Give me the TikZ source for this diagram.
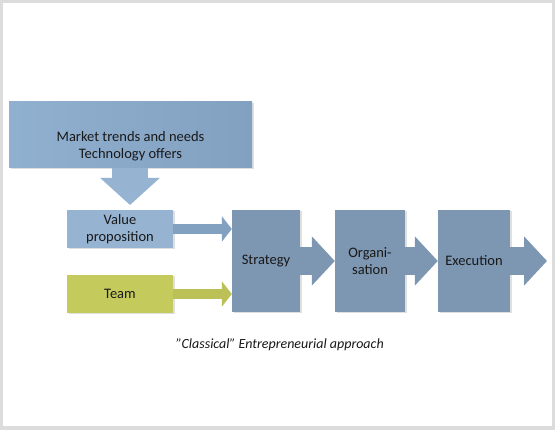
\documentclass[tikz,border=0pt]{standalone}
\usepackage{fontspec}
\setmainfont{Carlito}
\usetikzlibrary{arrows.meta,shadows}

\definecolor{procblue}{RGB}{125,150,177}
\definecolor{lightblue}{RGB}{150,180,210}
\definecolor{darkblue}{RGB}{130,160,192}
\definecolor{teamgreen}{RGB}{197,202,92}
\definecolor{framegray}{RGB}{220,220,220}

\tikzset{
  boxtext/.style={text=black!90, font=\fontsize{14.5}{17}\selectfont,
    align=center, inner sep=0pt},
  box/.style={boxtext, draw=none,
    drop shadow={opacity=0.25, shadow xshift=1.5pt, shadow yshift=-1.5pt}},
  procbox/.style={box, fill=procblue, minimum width=#1, minimum height=102pt},
  inbox/.style={box, minimum width=106pt, minimum height=38pt},
  fatarrow/.style={procblue, line width=28pt,
    -{Triangle[length=23pt,width=48pt]}},
  thinarrow/.style={line width=10pt, -{Triangle[length=10pt,width=25pt]}}
}

\begin{document}
\begin{tikzpicture}[x=1pt,y=1pt]
% frame
\fill[framegray] (0,0) rectangle (555,430);
\fill[white] (3,4) rectangle (552,427);
\useasboundingbox (0,0) rectangle (555,430);

\node[box, minimum width=243pt, minimum height=66pt,
  left color=lightblue!105, right color=darkblue] (mkt) at (130.5,295) {};
\node[boxtext] (mkttext) at (130.5,284)
  {Market trends and needs\\Technology offers};

\node[inbox, fill=lightblue] (vp) at (120,201) {Value\\proposition};
\node[inbox, fill=teamgreen] (team) at (120,136) {Team};

\node[procbox=68pt] (strat) at (266,169) {Strategy};
\node[procbox=70pt] (org) at (370,169) {Organi-\\sation};
\node[procbox=72pt] (exe) at (474,169) {Execution};
\coordinate (out) at (547,169);
\coordinate (down) at (130,225);

\draw[lightblue, line width=36pt, -{Triangle[length=27pt,width=58pt]}]
  (130,262) -- (down);
\draw[thinarrow, darkblue] (vp.east) -- (vp.east -| strat.west);
\draw[thinarrow, teamgreen!95!black] (team.east) -- (team.east -| strat.west);

\draw[fatarrow] (strat) -- (org);
\draw[fatarrow] (org) -- (exe);
\draw[fatarrow] (exe.east) -- (out);

\node[font=\fontsize{14}{16}\selectfont\itshape, text=black!90] (caption)
  at (280,85) {\symbol{34}Classical\symbol{34} Entrepreneurial approach};
\end{tikzpicture}
\end{document}
